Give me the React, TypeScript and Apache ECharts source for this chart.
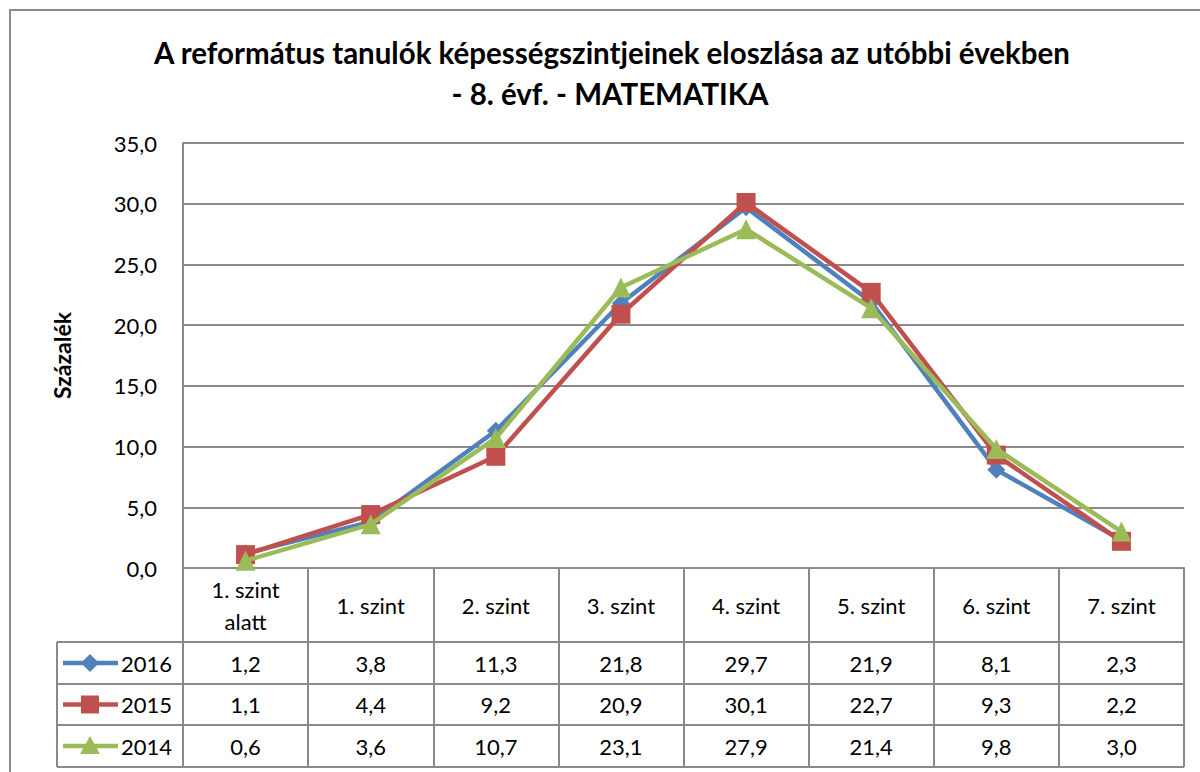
import React, { useEffect, useRef } from "react";
import * as echarts from "echarts";

const titleLine1 = "A református tanulók képességszintjeinek eloszlása az utóbbi években";
const titleLine2 = "- 8. évf. - MATEMATIKA";
const yAxisName = "Százalék";
const categories = ["1. szint\nalatt", "1. szint", "2. szint", "3. szint", "4. szint", "5. szint", "6. szint", "7. szint"];
const years = ["2016", "2015", "2014"];
const values2016 = [1.2, 3.8, 11.3, 21.8, 29.7, 21.9, 8.1, 2.3];
const values2015 = [1.1, 4.4, 9.2, 20.9, 30.1, 22.7, 9.3, 2.2];
const values2014 = [0.6, 3.6, 10.7, 23.1, 27.9, 21.4, 9.8, 3.0];
const seriesValues = [values2016, values2015, values2014];
const colors = ["#4F81BD", "#C0504D", "#9BBB59"];
const symbols = ["diamond", "rect", "triangle"];
const symbolSizes = [18, 19, 20];

const FONT = "Lato, 'Open Sans', sans-serif";
const fmt = (v: number) => v.toFixed(1).replace(".", ",");

export default function App() {
  const ref = useRef<HTMLDivElement>(null);
  useEffect(() => {
    if (!ref.current) return;
    const chart = echarts.init(ref.current, null, { renderer: "svg" });

    const gridLeft = 183;
    const gridTop = 143;
    const gridWidth = 1001;
    const gridBottomY = 568;
    const colW = gridWidth / categories.length;
    const rowLines = [642, 684, 725, 767];
    const tableLeft = 57;
    const gray = "#8a8a8a";

    const graphics: any[] = [
      {
        type: "rect",
        shape: { x: 10, y: 10, width: 1300, height: 1000 },
        style: { fill: "none", stroke: gray, lineWidth: 2 },
        silent: true,
      },
      {
        type: "text",
        x: 612,
        y: 52,
        style: { text: titleLine1, font: `bold 29.5px ${FONT}`, fill: "#000", textAlign: "center", textVerticalAlign: "middle" },
      },
      {
        type: "text",
        x: 610,
        y: 93,
        style: { text: titleLine2, font: `bold 29.5px ${FONT}`, fill: "#000", textAlign: "center", textVerticalAlign: "middle" },
      },
      {
        type: "line",
        shape: { x1: tableLeft, y1: rowLines[0], x2: tableLeft, y2: rowLines[3] },
        style: { stroke: gray, lineWidth: 2 },
      },
    ];
    rowLines.forEach((y) => {
      graphics.push({
        type: "line",
        shape: { x1: tableLeft, y1: y, x2: gridLeft + gridWidth, y2: y },
        style: { stroke: gray, lineWidth: 2 },
      });
    });
    years.forEach((yr, i) => {
      const cy = (rowLines[i] + rowLines[i + 1]) / 2;
      graphics.push({
        type: "line",
        shape: { x1: 63, y1: cy, x2: 118, y2: cy },
        style: { stroke: colors[i], lineWidth: 4.5 },
      });
      if (i === 0) {
        graphics.push({
          type: "polygon",
          shape: { points: [[90, cy - 9], [99, cy], [90, cy + 9], [81, cy]] },
          style: { fill: colors[i] },
        });
      } else if (i === 1) {
        graphics.push({
          type: "rect",
          shape: { x: 81, y: cy - 9, width: 18, height: 18 },
          style: { fill: colors[i] },
        });
      } else {
        graphics.push({
          type: "polygon",
          shape: { points: [[90, cy - 10], [100, cy + 8], [80, cy + 8]] },
          style: { fill: colors[i] },
        });
      }
      graphics.push({
        type: "text",
        x: 121,
        y: cy,
        style: { text: yr, font: `22px ${FONT}`, fill: "#000", textAlign: "left", textVerticalAlign: "middle" },
      });
      seriesValues[i].forEach((v, j) => {
        graphics.push({
          type: "text",
          x: gridLeft + colW * (j + 0.5),
          y: cy,
          style: { text: fmt(v), font: `22px ${FONT}`, fill: "#000", textAlign: "center", textVerticalAlign: "middle" },
        });
      });
    });

    chart.setOption({
      animation: false,
      backgroundColor: "#fff",
      textStyle: { fontFamily: FONT },
      grid: { left: gridLeft, top: gridTop, width: gridWidth, height: gridBottomY - gridTop },
      xAxis: {
        type: "category",
        data: categories,
        boundaryGap: true,
        axisLine: { show: true, lineStyle: { color: gray, width: 2 } },
        axisTick: { show: true, length: rowLines[3] - gridBottomY, lineStyle: { color: gray, width: 2 } },
        axisLabel: {
          interval: 0,
          margin: 37,
          verticalAlign: "middle",
          color: "#000",
          fontSize: 22,
          lineHeight: 32,
          fontFamily: FONT,
        },
      },
      yAxis: {
        type: "value",
        min: 0,
        max: 35,
        interval: 5,
        name: yAxisName,
        nameLocation: "middle",
        nameGap: 110,
        nameTextStyle: { fontWeight: "bold", fontSize: 23, color: "#000", fontFamily: FONT },
        axisLine: { show: true, lineStyle: { color: gray, width: 2 } },
        axisTick: { show: false },
        axisLabel: { color: "#000", fontSize: 22, margin: 26, formatter: (v: number) => fmt(v), fontFamily: FONT },
        splitLine: { show: true, lineStyle: { color: gray, width: 2 } },
      },
      series: years.map((yr, i) => ({
        name: yr,
        type: "line",
        data: seriesValues[i],
        symbol: symbols[i],
        symbolSize: symbolSizes[i],
        lineStyle: { color: colors[i], width: 4.5 },
        itemStyle: { color: colors[i] },
        z: 2 + i,
      })),
      graphic: graphics,
    });
    return () => chart.dispose();
  }, []);
  return <div ref={ref} style={{ position: "fixed", left: 0, top: 0, width: 1200, height: 772 }} />;
}
